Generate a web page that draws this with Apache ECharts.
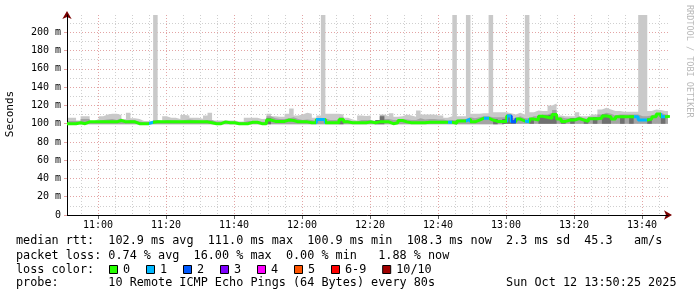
<!DOCTYPE html>
<html><head><meta charset="utf-8">
<script src="https://cdn.jsdelivr.net/npm/echarts@6.0.0/dist/echarts.min.js"></script>
<style>html,body{margin:0;padding:0;background:#fff;}#chart{width:697px;height:297px;}</style>
</head><body><div id="chart"></div>
<script>
// ---------- data ----------
const chartDate = [2025, 10, 12];
const startTime = '10:50:53';
const endTime = '13:47:39';
const stepSeconds = 80;
const xTickLabels = ['11:00','11:20','11:40','12:00','12:20','12:40','13:00','13:20','13:40'];
const yTickValues = [0,20,40,60,80,100,120,140,160,180,200];
const yMax = 219;

// median rtt per 80 s sample (ms)
const median = [
 100,100,101,100,102,102,102,102,102,102,102,103.5,102,102,102,100,100,100,101.5,102,
 102,102,102,102,102,102,102,102,102,102,102,101,100,100,102,101,101,100,100,100,
 101.5,101.5,100,100,104,102.5,102.5,102.5,104,103.5,102,102,102,101,101,104.5,104.5,101,101,101,
 104.5,102,101,101,101,101,102,101,102,102,102,100,101,103.5,102,101,101,101,101,101.5,
 101.5,101.5,101.5,101.5,101.5,100.5,103,103,105,102,104,106,106,104,102.5,102.5,102.5,108.5,102,105,
 103,102,105,104,108,107,106,110,105,102.5,104,104,105.5,104,102.5,105.5,105.5,106,108.5,107.5,
 105,107.5,107.5,107.5,107.5,107.5,104,104,105,107.5,110.5,107.5,108
];
// lowest ping of each sample (ms)
const smokeLow = [
 99.5,99.5,99.5,99.5,99.5,99.5,99.5,99.5,99.5,99.5,99.5,99.5,99.5,99.5,99.5,99.5,99.5,99.5,99.5,99.5,
 99.5,99.5,99.5,99.5,99.5,99.5,99.5,99.5,99.5,99.5,99.5,99.5,99.5,99.5,99.5,99.5,99.5,99.5,99.5,99.5,
 99.5,99.5,99.5,99.5,99.5,99.5,99.5,99.5,99.5,99.5,99.5,99.5,99.5,99.5,99.5,99.5,99.5,99.5,99.5,99.5,
 99.5,99.5,99.5,99.5,99.5,99.5,99.5,99.5,99.5,99.5,99.5,99.5,99.5,99.5,99.5,99.5,99.5,99.5,99.5,99.5,
 99.5,99.5,99.5,99.5,99.5,99.5,99.5,99.5,99.5,99.5,99.5,99.5,99.5,99.5,99.5,99.5,99.5,100,100,100,
 100,100,100,100,100,100,100,100,100,100,100,100,100,100,100,100,100,100,100,100,
 100,100,100,100,100,100,100,100,100,100,100,100,100
];
// highest ping of each sample (ms); spikes run off the top of the chart
const smokeHigh = [
 106.5,106.5,103.5,108,108,103,105,108,110,111,111,109.5,105,112,106,105,103,103,102.5,230,
 103.5,108,106.5,106.5,105,109.5,109,106.5,106.5,105.5,109,112,103.5,103.5,103.5,103.5,103.5,102.5,102.5,106.5,
 106.5,106.5,105,105.5,111,108,107.5,107.5,111,116.5,109,110,112,111,106.5,109,230,111,111,111,
 110,106.5,104.5,103.5,109,108.5,109,103.5,104,110,108,111.5,107.5,108,110,109,107.5,114.5,110,110,
 110,109,109,106.5,108,230,108,108,230,111,111,111.5,111.5,230,112.5,112.5,112.5,111.5,110,112,
 110,230,112.5,114.5,114,114,120,122,109,108,108,108,112.5,108,108,110,110,115.5,117.5,115.5,
 114,114,113,113,113,113,230,230,114,115.5,115,114,114
];
// upper edge of the medium-grey smoke (ms)
const smokeMid = [
 103,103,102,105,105,102.5,103,104,104.5,105,104,106,103,104,103.5,102.5,101.5,101.5,101.5,104,
 102.5,104,103.5,103.5,103,104,104.5,104,103.5,103,104,104,102,102,102.5,102,102,101.5,101.5,103,
 103,103,102,102,108,106,105,105,106,107,105,104,104.5,104,103,106,106,104,104,104,
 107,104,102.5,102.5,104,104,104,102.5,104,109,105,104,104,105,104.5,104,104,106,104.5,105,
 105,104.5,104.5,103.5,104,104,105,105,107,106,107,108,108,107,107,107,107,109,106,108,
 106,106,108,108,110,110,112,115,107,106,106,106,108,106,105,107.5,107.5,110,112,111,
 109,110,110,110,110,110,108,108,109,111,112,110,110
];
// upper edge of the dark (dense) smoke (ms)
const smokeDense = [
 99.5,99.5,99.5,99.5,99.5,99.5,99.5,99.5,99.5,99.5,99.5,99.5,99.5,99.5,99.5,99.5,99.5,99.5,99.5,99.5,
 99.5,99.5,99.5,99.5,99.5,99.5,99.5,99.5,99.5,99.5,99.5,99.5,99.5,99.5,99.5,99.5,99.5,99.5,99.5,99.5,
 99.5,99.5,99.5,99.5,106,99.5,99.5,99.5,99.5,99.5,99.5,99.5,99.5,99.5,99.5,99.5,99.5,99.5,99.5,99.5,
 103,99.5,99.5,99.5,99.5,99.5,99.5,99.5,104,108,99.5,99.5,99.5,99.5,99.5,99.5,99.5,99.5,99.5,99.5,
 99.5,99.5,99.5,99.5,99.5,99.5,99.5,99.5,99.5,99.5,99.5,99.5,99.5,99.5,105,99.5,105,110,104,100,
 100,100,106,100,109,109,110,112,100,104,100,106,100,100,104,100,107,100,110,109,
 100,100,109,100,109,100,100,100,106,100,100,109,100
];
// loss level per sample (index into lossColors)
const lossLevel = [
 0,0,0,0,0,0,0,0,0,0,0,0,0,0,0,0,0,0,1,0,
 0,0,0,0,0,0,0,0,0,0,0,0,0,0,0,0,0,0,0,0,
 0,0,0,0,0,0,0,0,0,0,0,0,0,0,0,1,1,0,0,0,
 0,0,0,0,0,0,0,0,0,0,0,0,0,0,0,0,0,0,0,0,
 0,0,0,0,1,0,0,0,1,0,0,0,1,0,0,0,0,1,2,0,
 0,1,0,0,0,0,0,0,0,0,0,0,0,0,0,0,0,0,0,0,
 0,0,0,0,0,1,1,1,0,0,0,1,0
];
const lossLabels = ['0','1','2','3','4','5','6-9','10/10'];
const lossColors = ['#26ff00','#00b8ff','#0059ff','#7e00ff','#ff00ff','#ff5500','#ff0000','#a10000'];

const statLine1 = 'median rtt:  102.9 ms avg  111.0 ms max  100.9 ms min  108.3 ms now  2.3 ms sd  45.3   am/s';
const statLine2 = 'packet loss: 0.74 % avg  16.00 % max  0.00 % min   1.88 % now';
const lossTitle = 'loss color:';
const probeLine = 'probe:       10 Remote ICMP Echo Pings (64 Bytes) every 80s          Sun Oct 12 13:50:25 2025';
const yTitle = 'Seconds';
const watermark = 'RRDTOOL / TOBI OETIKER';

// ---------- build ----------
function toTs(s){const p=s.split(':').map(Number);return Date.UTC(chartDate[0],chartDate[1]-1,chartDate[2],p[0],p[1],p[2]||0);}
const t0 = toTs(startTime), tEnd = toTs(endTime), stepMs = stepSeconds*1000;
const n = median.length;
const xs = []; for (let i=0;i<=n;i++) xs.push(t0+i*stepMs);
function pts(arr){const o=arr.map((v,i)=>[xs[i],v]); o.push([xs[n],arr[n-1]]); return o;}
function diff(a,b){return a.map((v,i)=>v-b[i]);}
const pad=v=>String(v).padStart(2,'0');
function hhmm(v){const d=new Date(v);return pad(d.getUTCHours())+':'+pad(d.getUTCMinutes());}

const majorX = xTickLabels.map(toTs);
const minorX = [];
for (let t=Math.ceil(t0/300000)*300000; t<=tEnd; t+=300000){ if (!majorX.includes(t)) minorX.push(t); }

const pieces = [];
lossLevel.forEach((l,i)=>{ if(l>0) pieces.push({gte:xs[i], lt:xs[i+1], color:lossColors[l]}); });

const MONO = '"DejaVu Sans Mono"';
const majorColor = '#e3a4a4', minorColor = '#cfcfcf', arrowColor = '#7a0000';
const common = {type:'line', step:'end', symbol:'none', showSymbol:false, silent:true, lineStyle:{width:0}, xAxisIndex:0, yAxisIndex:0};

const graphic = [
 {type:'text', x:10, y:114, rotation:Math.PI/2, style:{text:yTitle, font:'11px '+MONO, fill:'#000', align:'center', verticalAlign:'middle'}},
 {type:'text', x:689, y:5, rotation:-Math.PI/2, style:{text:watermark, font:'8.5px '+MONO, fill:'#b8b8b8', align:'left', verticalAlign:'middle'}},
 {type:'text', x:16, y:241, style:{text:statLine1, font:'11.8px '+MONO, fill:'#000', verticalAlign:'middle'}},
 {type:'text', x:16, y:255.5, style:{text:statLine2, font:'11.8px '+MONO, fill:'#000', verticalAlign:'middle'}},
 {type:'text', x:16, y:269.5, style:{text:lossTitle, font:'11.8px '+MONO, fill:'#000', verticalAlign:'middle'}},
 {type:'text', x:16, y:283, style:{text:probeLine, font:'11.8px '+MONO, fill:'#000', verticalAlign:'middle'}}
];
let sx = 109;
lossLabels.forEach((lab,k)=>{
  graphic.push({type:'rect', shape:{x:sx+0.5, y:265.5, width:8, height:8}, style:{fill:lossColors[k], stroke:'#000', lineWidth:1}});
  graphic.push({type:'text', x:sx+14, y:269.5, style:{text:lab, font:'11.8px '+MONO, fill:'#000', verticalAlign:'middle'}});
  sx = sx + 14 + lab.length*7.1 + 15.9;
});

const option = {
  animation:false,
  useUTC:true,
  backgroundColor:'#fff',
  grid:{left:67, right:29, top:15, bottom:82, containLabel:false},
  visualMap:{type:'piecewise', show:false, dimension:0, seriesIndex:6, pieces:pieces, outOfRange:{color:lossColors[0]}},
  xAxis:[
   {type:'time', min:t0, max:tEnd, z:3,
    axisLine:{show:true, lineStyle:{color:'#000', width:1}},
    axisTick:{show:false}, axisLabel:{show:false}, splitLine:{show:false}},
   {type:'value', min:t0, max:tEnd, position:'bottom',
    axisLine:{show:false},
    axisTick:{show:true, customValues:majorX, length:4, lineStyle:{color:'#666'}},
    axisLabel:{customValues:majorX, formatter:v=>hhmm(v), fontFamily:MONO, fontSize:10, color:'#000', margin:5},
    splitLine:{show:true, lineStyle:{color:majorColor, type:[1,2], width:1}}},
   {type:'value', min:t0, max:tEnd, position:'bottom',
    axisLine:{show:true, symbol:['none','arrow'], symbolSize:[7,8], symbolOffset:[0,4], lineStyle:{color:arrowColor, width:0}},
    axisTick:{show:false, customValues:minorX},
    axisLabel:{show:false},
    splitLine:{show:true, lineStyle:{color:minorColor, type:[1,2], width:1}}}
  ],
  yAxis:[
   {type:'value', min:0, max:yMax, interval:20, z:3,
    axisLine:{show:true, lineStyle:{color:'#000', width:1}},
    axisTick:{show:true, customValues:yTickValues, length:3, lineStyle:{color:majorColor}},
    axisLabel:{customValues:yTickValues, formatter:v=>v===0?'0':v+' m', fontFamily:MONO, fontSize:10, color:'#000', margin:6},
    splitLine:{show:true, lineStyle:{color:majorColor, type:[1,2], width:1}},
    minorTick:{show:false, splitNumber:2},
    minorSplitLine:{show:true, lineStyle:{color:minorColor, type:[1,2], width:1}}},
   {type:'value', min:0, max:yMax, position:'left',
    axisLine:{show:true, symbol:['none','arrow'], symbolSize:[7,8], symbolOffset:[0,4], lineStyle:{color:arrowColor, width:0}},
    axisTick:{show:false}, axisLabel:{show:false}, splitLine:{show:false}}
  ],
  series:[
   Object.assign({}, common, {stack:'s1', data:pts(smokeLow)}),
   Object.assign({}, common, {stack:'s1', data:pts(diff(smokeHigh,smokeLow)), areaStyle:{color:'#c9c9c9', opacity:1}}),
   Object.assign({}, common, {stack:'s2', data:pts(smokeLow)}),
   Object.assign({}, common, {stack:'s2', data:pts(diff(smokeMid,smokeLow)), areaStyle:{color:'#a4a4a4', opacity:1}}),
   Object.assign({}, common, {stack:'s3', data:pts(smokeLow)}),
   Object.assign({}, common, {stack:'s3', data:pts(diff(smokeDense,smokeLow)), areaStyle:{color:'#707070', opacity:1}}),
   {type:'line', step:'end', symbol:'none', showSymbol:false, silent:true, z:5, data:pts(median), lineStyle:{width:3}}
  ],
  graphic: graphic
};
const chart = echarts.init(document.getElementById('chart'), null, {renderer:'canvas'});
chart.setOption(option);
</script></body></html>
